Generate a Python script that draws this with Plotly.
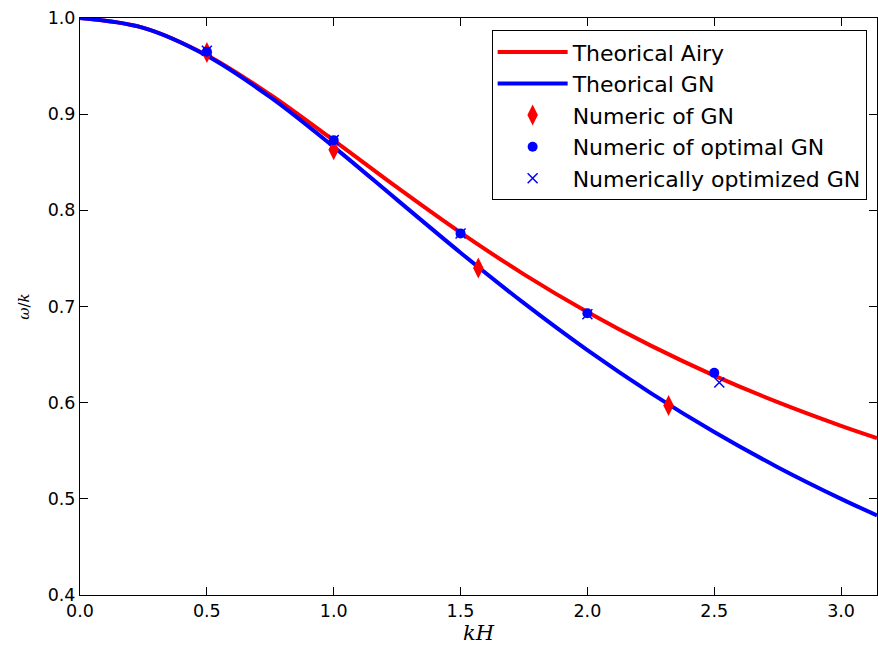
import plotly.graph_objects as go

# Theoretical curves
kh_curve = [0.0, 0.25, 0.5, 0.75, 1.0, 1.25, 1.5, 1.75, 2.0, 2.25, 2.5, 2.75, 3.0, 3.1416]
airy_vals = [1.0, 0.98979, 0.96137, 0.92025, 0.87269, 0.82379, 0.77681, 0.73344,
             0.69427, 0.65930, 0.62820, 0.60056, 0.57592, 0.56314]
gn_vals = [1.0, 0.98974, 0.96077, 0.91766, 0.86603, 0.81088, 0.75593, 0.70345,
           0.65465, 0.60999, 0.56950, 0.53294, 0.5, 0.48280]

# Numeric points
num_gn_x = [0.5, 1.0, 1.57, 2.32]
num_gn_y = [0.964, 0.863, 0.740, 0.597]
num_opt_x = [0.5, 1.0, 1.5, 2.0, 2.5]
num_opt_y = [0.965, 0.873, 0.776, 0.693, 0.631]
numopt_x = [0.5, 1.0, 1.5, 2.0, 2.52]
numopt_y = [0.966, 0.873, 0.776, 0.692, 0.621]

x_ticks = [0.0, 0.5, 1.0, 1.5, 2.0, 2.5, 3.0]
y_ticks = [0.4, 0.5, 0.6, 0.7, 0.8, 0.9, 1.0]

fig = go.Figure()
fig.add_trace(go.Scatter(x=kh_curve, y=airy_vals, mode="lines", name="Theorical Airy",
                         line=dict(color="#ff0000", width=4, shape="spline")))
fig.add_trace(go.Scatter(x=kh_curve, y=gn_vals, mode="lines", name="Theorical GN",
                         line=dict(color="#0000ff", width=4, shape="spline")))
fig.add_trace(go.Scatter(x=num_gn_x, y=num_gn_y, mode="markers", name="Numeric of GN",
                         marker=dict(symbol="diamond-tall", color="#ff0000", size=15,
                                     line=dict(width=0))))
fig.add_trace(go.Scatter(x=num_opt_x, y=num_opt_y, mode="markers", name="Numeric of optimal GN",
                         marker=dict(symbol="circle", color="#0000ff", size=10,
                                     line=dict(width=0))))
fig.add_trace(go.Scatter(x=numopt_x, y=numopt_y, mode="markers", name="Numerically optimized GN",
                         marker=dict(symbol="x-thin", color="#0000ff", size=10,
                                     line=dict(width=1.5, color="#0000ff"))))

axis_common = dict(showgrid=False, zeroline=False, showline=True, linecolor="black",
                   linewidth=1, mirror="ticks", ticks="inside", ticklen=8,
                   tickcolor="black", automargin=False,
                   tickfont=dict(family="DejaVu Sans", size=17.5, color="black"))

fig.update_xaxes(range=[0, 3.1416], tickvals=x_ticks,
                 ticktext=[f"{v:.1f}" for v in x_ticks],
                 title=dict(text="<i>kH</i>", font=dict(family="DejaVu Serif", size=21, color="black"),
                            standoff=4),
                 **axis_common)
fig.update_yaxes(range=[0.4, 1.0], tickvals=y_ticks,
                 ticktext=[f"{v:.1f}" for v in y_ticks],
                 title=dict(text="<i>ω</i>/<i>k</i>", font=dict(family="DejaVu Serif", size=15, color="black"),
                            standoff=14),
                 **axis_common)

fig.update_layout(
    width=878, height=647,
    margin=dict(l=80, r=1, t=18, b=52),
    plot_bgcolor="white", paper_bgcolor="white",
    font=dict(family="DejaVu Sans", color="black"),
    legend=dict(x=0.987, y=0.979, xanchor="right", yanchor="top",
                bgcolor="white", bordercolor="black", borderwidth=1,
                font=dict(family="DejaVu Sans", size=22, color="black"),
                itemwidth=70),
    showlegend=True,
)

fig.write_html("out.html", config={"displayModeBar": False},
               post_script="document.body.style.margin='0';document.body.style.overflow='hidden';")
